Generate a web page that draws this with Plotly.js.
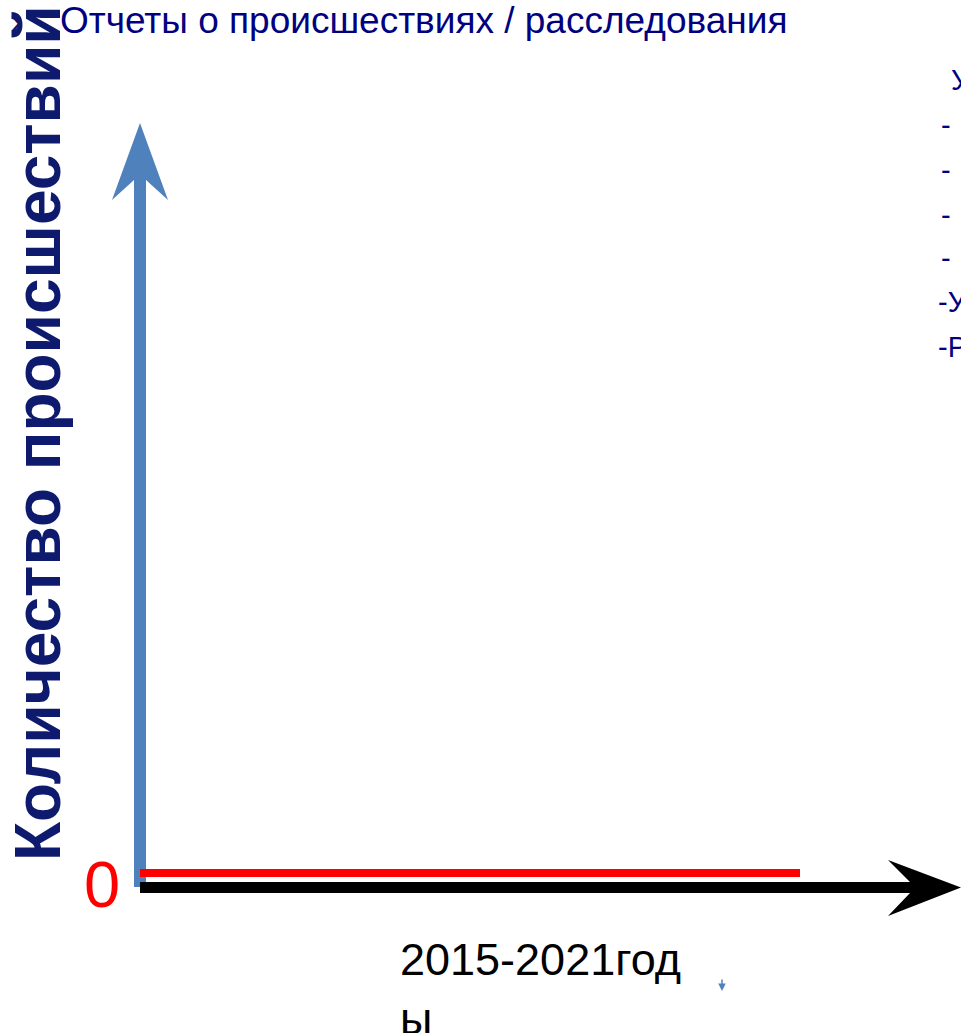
<!DOCTYPE html>
<html>
<head>
<meta charset="utf-8">
<script src="https://cdn.plot.ly/plotly-3.0.1.min.js"></script>
<style>html,body{margin:0;padding:0;background:#fff;overflow:hidden}</style>
</head>
<body>
<div id="chart" style="width:961px;height:1033px"></div>
<script>
// Data
const years = [2015, 2016, 2017, 2018, 2019, 2020, 2021];
const incidents = [0, 0, 0, 0, 0, 0, 0];
const chartTitle = "Отчеты о происшествиях / расследования";
const yTitle = "Количество происшествий";
const xTitle = "2015-2021год<br>ы";
const zeroLabel = "0";
const sideLines = ["У", "-", "-", "-", "-", "-У", "-Р"];

const W = 961, H = 1033;
const px = x => x / W;
const py = y => 1 - y / H;
function path(pts) {
  return pts.map((p, i) => (i ? "L" : "M") + px(p[0]).toFixed(5) + "," + py(p[1]).toFixed(5)).join(" ") + " Z";
}

const FONT = "Liberation Sans, Arial, sans-serif";
const NAVY = "#0d1a6e";

const shapes = [
  { type: "path", xref: "paper", yref: "paper", layer: "below", fillcolor: "#4f81bd", line: { width: 0 },
    path: path([[140,123],[168,200],[146,180],[146,887],[134,887],[134,180],[112,200]]) },
  { type: "path", xref: "paper", yref: "paper", layer: "below", fillcolor: "#000000", line: { width: 0 },
    path: path([[140,882],[910,882],[888,860],[961,887.5],[888,916],[910,893],[140,893]]) }
];

const annotations = [
  { xref: "paper", yref: "paper", x: px(8), y: py(22), xanchor: "left", yanchor: "middle",
    text: "›", showarrow: false, font: { family: FONT, size: 36, color: NAVY } },
  { xref: "paper", yref: "paper", x: px(58), y: py(20), xanchor: "left", yanchor: "middle",
    text: chartTitle, showarrow: false, font: { family: FONT, size: 37, color: "#000080" } },
  { xref: "paper", yref: "paper", x: px(38), y: py(433), xanchor: "center", yanchor: "middle",
    textangle: -90, text: "<b>" + yTitle + "</b>", showarrow: false,
    font: { family: FONT, size: 64, color: NAVY } },
  { xref: "paper", yref: "paper", x: px(102), y: py(884), xanchor: "center", yanchor: "middle",
    text: zeroLabel, showarrow: false, font: { family: FONT, size: 65, color: "#ff0000" } },
  { xref: "paper", yref: "paper", x: px(398), y: py(932), xanchor: "left", yanchor: "top",
    text: xTitle, align: "left", showarrow: false, font: { family: FONT, size: 45, color: "#000000" } },
  { xref: "paper", yref: "paper", x: px(722), y: py(991), axref: "pixel", ayref: "pixel", ax: 0, ay: -13,
    text: "", showarrow: true, arrowhead: 2, arrowsize: 1, arrowwidth: 1.5, arrowcolor: "#4f81bd" }
];
const sideY = [80, 125, 170, 215, 258, 302, 347];
const sideX = [949, 939, 939, 939, 939, 936, 936];
sideLines.forEach((t, i) => {
  annotations.push({ xref: "paper", yref: "paper", x: px(sideX[i]), y: py(sideY[i]), xanchor: "left", yanchor: "middle",
    text: t, showarrow: false, font: { family: FONT, size: 29, color: "#000080" } });
});

const traces = [{
  type: "scatter", mode: "lines", x: years, y: incidents,
  line: { color: "#ff0000", width: 8 }, hoverinfo: "skip", showlegend: false
}];

const layout = {
  width: W, height: H,
  margin: { l: 0, r: 0, t: 0, b: 0, pad: 0 },
  paper_bgcolor: "#ffffff", plot_bgcolor: "#ffffff",
  xaxis: { range: [2015 - 140 / 110, 2015 + 821 / 110], visible: false, fixedrange: true },
  yaxis: { range: [-1.6, 8.73], visible: false, fixedrange: true },
  shapes: shapes, annotations: annotations, showlegend: false
};

Plotly.newPlot("chart", traces, layout, { staticPlot: true, displayModeBar: false });
</script>
</body>
</html>
